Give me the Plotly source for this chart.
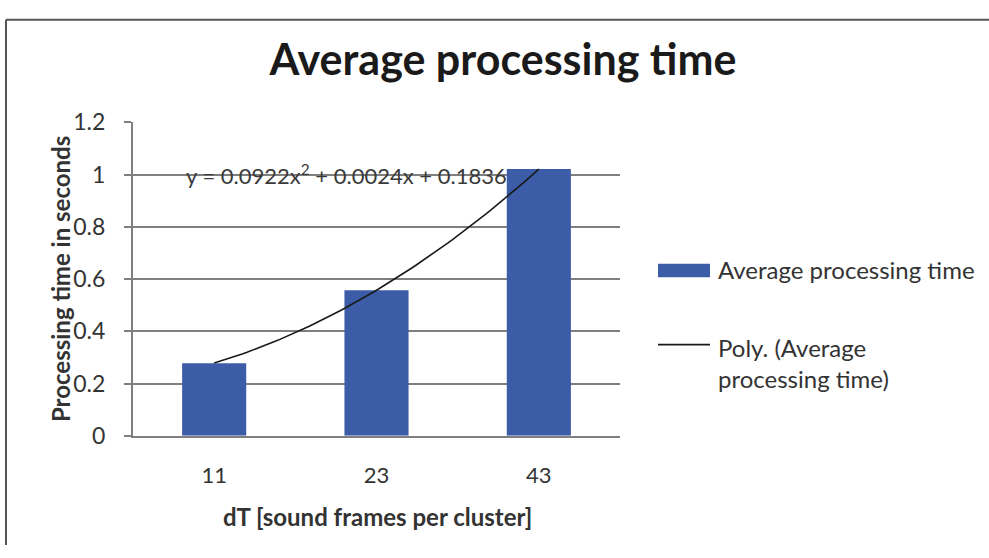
import numpy as np
import plotly.graph_objects as go

# Data
categories = ["11", "23", "43"]
avg_time = [0.278, 0.557, 1.021]
# polynomial trend coefficients (x = category index 1..n)
poly_coef = [0.0922, 0.0024, 0.1836]
series_name = "Average processing time"
trend_name = "Poly. (Average<br>processing time)"

W, H = 989, 558
# plot-area pixel box
PX_L, PX_R, PX_T, PX_B = 133, 620, 113, 443

bar_color = "#3D5CA8"
txt = "#333333"
grid = "#7f7f7f"
font_fam = "Lato, Carlito, 'Open Sans', sans-serif"


def px(x):
    return x / W


def py(y):
    return 1 - y / H


pos = list(range(len(categories)))

# trend curve evaluated on the category index
t = np.linspace(1, len(categories), 80)
trend = poly_coef[0] * t**2 + poly_coef[1] * t + poly_coef[2]

fig = go.Figure()
fig.add_trace(go.Bar(
    x=pos, y=avg_time, width=0.395,
    marker=dict(color=bar_color, line=dict(width=0)),
    name=series_name, showlegend=False,
))
fig.add_trace(go.Scatter(
    x=t - 1, y=trend, mode="lines",
    line=dict(color="#1a1a1a", width=1.6),
    name=trend_name, showlegend=False,
))

eq = "y = %.4fx<sup>2</sup> + %.4fx + %.4f" % tuple(poly_coef)
fig.add_annotation(
    x=-0.185, y=1.0, xref="x", yref="y", xanchor="left", yanchor="middle",
    text=eq, showarrow=False, font=dict(size=22, color="#3a3a3a", family=font_fam),
)

# legend: bar swatch + line sample with labels
fig.add_shape(type="rect", xref="paper", yref="paper",
              x0=px(658), x1=px(710), y0=py(276), y1=py(262),
              fillcolor=bar_color, line=dict(width=0))
fig.add_annotation(x=px(716), y=py(268), xref="paper", yref="paper",
                   xanchor="left", yanchor="middle", text=series_name,
                   showarrow=False, font=dict(size=24, color=txt, family=font_fam))
fig.add_shape(type="line", xref="paper", yref="paper",
              x0=px(658), x1=px(710), y0=py(347), y1=py(347),
              line=dict(color="#1a1a1a", width=1.6))
fig.add_annotation(x=px(716), y=py(333), xref="paper", yref="paper",
                   xanchor="left", yanchor="top", align="left", text=trend_name,
                   showarrow=False, font=dict(size=24, color=txt, family=font_fam))

# figure frame (left and top edges)
fig.add_shape(type="line", xref="paper", yref="paper",
              x0=px(6), x1=px(6), y0=0, y1=py(5),
              line=dict(color="#555", width=2))
fig.add_shape(type="line", xref="paper", yref="paper",
              x0=px(6), x1=1, y0=py(5), y1=py(5),
              line=dict(color="#555", width=2))

fig.update_layout(
    width=W, height=H,
    margin=dict(l=0, r=0, t=0, b=0),
    paper_bgcolor="white", plot_bgcolor="white",
    font=dict(family=font_fam, color=txt),
    title=dict(text="<b>Average processing time</b>", x=px(503), xanchor="center",
               y=py(60), yanchor="middle",
               font=dict(size=43, color="#1a1a1a", family=font_fam)),
    showlegend=False,
)
fig.update_xaxes(
    domain=[px(PX_L), px(PX_R)], range=[-0.5, 2.5],
    tickvals=pos, ticktext=categories, ticks="", showgrid=False,
    showline=True, linecolor=grid, linewidth=2,
    tickfont=dict(size=22, color=txt), ticklabelstandoff=19,
    zeroline=False,
)
fig.update_yaxes(
    domain=[py(PX_B), py(PX_T)], range=[0, 1.2],
    tickvals=[0, 0.2, 0.4, 0.6, 0.8, 1.0, 1.2],
    ticktext=["0", "0.2", "0.4", "0.6", "0.8", "1", "1.2"],
    showgrid=True, gridcolor=grid, gridwidth=2,
    showline=True, linecolor=grid, linewidth=2,
    ticks="outside", ticklen=7, tickcolor=grid, tickwidth=2,
    tickfont=dict(size=23, color=txt), ticklabelstandoff=14,
    zeroline=False,
)

fig.add_annotation(x=px(377), y=py(528), xref="paper", yref="paper",
                   xanchor="center", yanchor="middle",
                   text="<b>dT [sound frames per cluster]</b>", showarrow=False,
                   font=dict(size=24, color=txt, family=font_fam))
fig.add_annotation(x=px(60), y=py(278), xref="paper", yref="paper",
                   xanchor="center", yanchor="middle",
                   text="<b>Processing time in seconds</b>", showarrow=False,
                   textangle=-90, font=dict(size=24, color=txt, family=font_fam))

fig.write_html("out.html")
